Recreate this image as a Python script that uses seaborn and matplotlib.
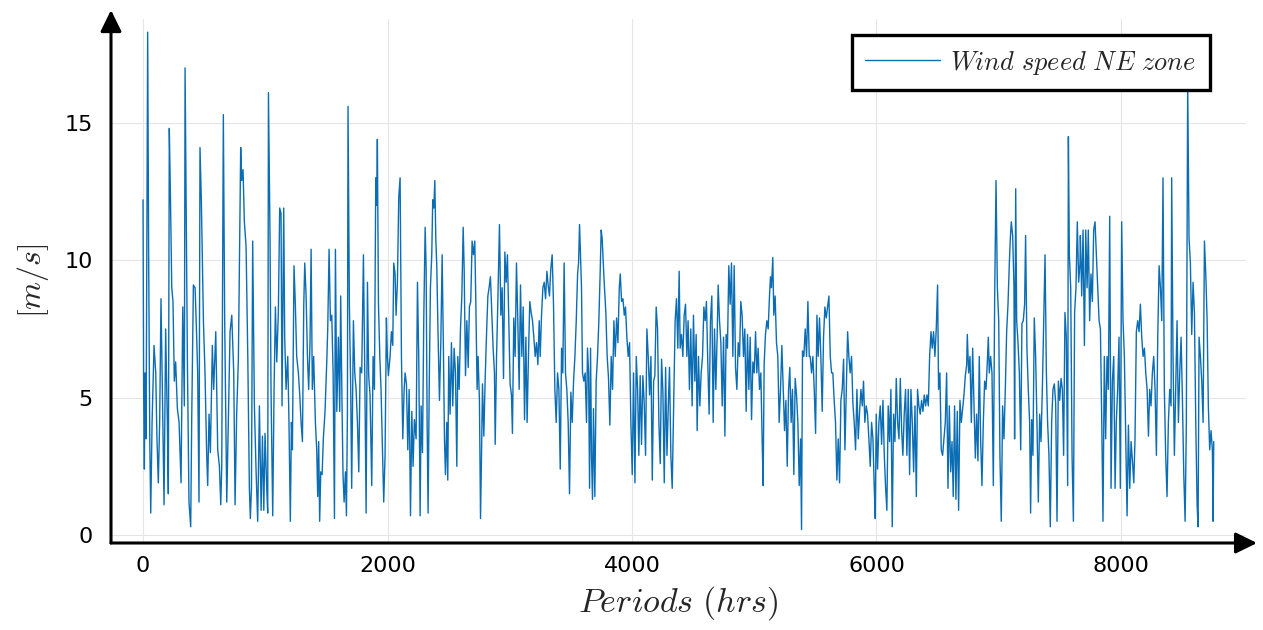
import numpy as np
import pandas as pd
import matplotlib
matplotlib.use("Agg")
import matplotlib.pyplot as plt
import seaborn as sns

# ---- data (hour, wind speed m/s) ----
h1 = [0,5,11,16,25,38,46,55,63,74,90,104,114,125,136,147,158,172,185,199,207,215,224,235,245,256,267,281,295,311,325,338,344,352,363,376,390,398,412,426,439,447,458,466,477,494,507,521,529,540,551,567,578,595,611,625,636,644,657,668,685,698,712,726,742,753,766,780,799,807,818,829,843,857,870,878,887,897,911,925,938,952,966,977,988,998,1012,1020,1026]
v1 = [12.2,5.3,2.4,5.9,3.5,18.3,10.2,3.5,0.8,4.1,6.9,5.9,3.5,1.9,4.1,8.6,5.3,1.1,7.5,4.1,1.5,14.8,12.4,9.0,8.5,5.6,6.3,4.6,4.1,1.9,8.3,4.7,17.0,12.6,6.3,1.2,0.3,4.1,9.1,9.0,7.2,5.9,1.2,14.1,12.2,7.8,5.9,2.9,1.8,4.4,3.0,6.9,5.3,7.4,3.1,2.5,1.1,2.5,15.3,7.8,1.2,4.1,7.4,8.0,5.9,1.1,4.4,6.4,14.1,12.9,13.3,11.4,10.5,6.5,1.7,0.6,1.7,10.7,4.7,2.3,0.5,4.7,0.9,3.6,0.9,3.7,1.7,0.8,16.1]

h2 = [1039,1047,1061,1072,1083,1094,1107,1118,1129,1137,1151,1159,1170,1184,1194,1205,1214,1222,1235,1246,1257,1271,1282,1293,1304,1315,1323,1334,1345,1355,1366,1375,1385,1396,1410,1421,1429,1437,1445,1454,1465,1475,1489,1503,1511,1522,1533,1544,1555,1566,1574,1585,1598,1609,1617,1628,1636,1645,1656,1664,1672,1677,1688,1699,1707,1716,1721,1732,1743,1754,1765,1776,1789,1803,1814,1825,1836,1846,1857,1871,1882,1893,1904,1912,1917,1926,1937,1947,1958,1969,1980,1991,1999,2007,2021,2032,2043,2051,2062,2070,2081,2092,2103,2114,2125,2136]
v2 = [10.8,5.3,0.7,5.3,8.3,6.3,8.1,11.9,11.7,4.7,11.9,7.2,5.3,6.5,4.1,0.5,4.1,3.1,9.8,8.4,6.5,5.9,5.1,4.1,3.4,8.4,9.9,8.7,6.5,5.3,7.0,10.4,5.3,6.5,4.1,3.1,1.4,3.4,0.5,2.3,2.2,3.5,4.5,6.3,7.5,10.4,7.8,8.0,5.9,0.6,10.4,4.5,7.2,4.5,8.7,4.7,2.2,1.2,2.3,0.7,4.4,15.6,8.4,5.3,1.7,5.6,7.8,5.9,5.3,4.1,2.3,6.1,5.9,10.2,5.9,0.8,9.2,5.8,5.1,1.8,6.5,5.3,13.0,12.0,14.4,8.4,6.5,5.3,3.3,1.2,2.9,7.9,6.5,5.8,6.5,7.4,6.9,9.9,9.5,8.0,9.2,12.3,13.0,6.5,3.5,5.3]

h3 = [2144,2155,2166,2177,2188,2199,2209,2220,2234,2245,2256,2267,2275,2286,2297,2308,2316,2324,2332,2341,2351,2362,2370,2379,2387,2395,2403,2414,2425,2436,2447,2458,2466,2474,2485,2493,2501,2512,2523,2534,2545,2556,2567,2575,2586,2597,2608,2619,2627,2638,2649,2660,2670,2681,2692,2703,2714,2722,2733,2741,2752,2761,2769,2777,2788,2799,2810,2821,2831,2842,2853,2864,2875,2881,2892,2902,2916,2927,2938,2949,2960,2971,2981,2992,3003,3014,3022,3033,3044,3055,3066,3077,3088,3099,3110,3121,3132,3142,3153,3164,3175,3186,3197,3208,3219,3230,3241]
v3 = [5.9,5.5,3.1,5.3,0.7,4.5,2.5,4.2,3.5,9.2,6.3,0.7,4.7,3.0,8.0,11.2,9.7,4.1,0.8,5.3,9.0,10.2,12.2,11.9,12.9,10.8,9.8,7.2,4.9,7.0,10.2,6.5,3.5,2.2,4.1,2.0,6.5,4.4,7.0,4.7,6.8,5.9,2.5,6.5,5.3,7.5,8.7,11.2,9.7,5.8,7.8,6.1,8.3,8.5,10.7,10.2,10.7,8.6,5.3,6.5,4.9,0.6,2.9,5.5,3.6,5.7,7.3,8.7,9.0,9.4,8.1,6.8,5.9,3.3,6.5,8.4,11.3,8.0,9.0,5.7,10.3,9.2,10.2,7.8,5.5,5.1,3.7,7.9,6.5,9.9,7.8,5.3,9.1,6.5,8.3,4.2,7.2,4.1,6.5,8.5,8.1,7.8,7.2,6.5,7.0,6.2,7.8]

h4 = [3249,3260,3271,3282,3293,3304,3314,3325,3336,3347,3358,3369,3380,3391,3402,3413,3424,3434,3445,3456,3467,3478,3489,3500,3511,3522,3533,3544,3555,3563,3571,3579,3587,3595,3606,3617,3628,3636,3645,3653,3661,3669,3677,3685,3696,3707,3718,3729,3740,3748,3756,3765,3775,3786,3797,3808,3819,3830,3841,3852,3863,3874,3885,3896,3904,3915,3926,3937,3947,3958,3969,3980,3991,4002,4013,4024,4035,4046,4056,4067,4078,4089,4100,4111,4122,4133,4144,4155,4166,4177,4187,4198,4209,4220,4231,4242,4253,4264,4275,4286,4297,4307,4318,4329,4340]
v4 = [6.5,8.0,9.0,9.2,8.6,9.6,9.1,8.7,9.7,10.2,8.4,5.3,4.1,5.9,5.3,2.4,6.8,5.9,9.9,5.9,5.3,4.1,1.5,5.2,4.1,5.6,6.5,7.8,9.5,9.9,11.3,10.2,9.0,5.9,5.6,5.9,4.1,6.8,5.9,1.7,6.8,2.9,1.3,4.6,1.4,5.6,6.5,7.8,9.6,11.1,10.8,9.9,9.0,8.1,6.5,5.7,4.0,6.5,5.3,7.8,6.5,7.9,7.0,9.0,9.5,8.5,8.6,8.0,8.3,7.2,6.5,7.0,4.1,2.2,5.9,1.9,6.5,5.3,2.9,5.8,3.3,5.8,4.8,2.9,7.5,6.5,5.1,6.5,2.0,5.6,5.8,8.3,7.5,4.1,2.6,6.4,5.2,1.9,6.1,2.9,4.7,6.1,2.9,1.7,4.4]

h5 = [4353,4364,4375,4386,4394,4405,4416,4427,4438,4449,4459,4470,4481,4492,4503,4514,4525,4533,4544,4555,4566,4577,4588,4599,4609,4620,4631,4642,4653,4664,4675,4686,4697,4705,4716,4727,4738,4749,4760,4770,4781,4792,4803,4814,4825,4836,4847,4858,4869,4880,4890,4901,4912,4923,4934,4945,4956,4967,4978,4989,5000,5011,5021,5032,5043,5054,5065,5073,5081,5092,5103,5114,5125,5133,5141,5152,5160,5171,5182,5193,5204,5215,5226,5237,5248,5259,5270,5281,5291,5302,5313,5324,5335,5346,5357,5368,5379,5387,5395,5406,5417,5428,5439,5450]
v5 = [7.8,8.6,6.8,9.6,6.8,7.3,6.5,8.0,8.4,6.5,7.8,5.3,7.5,4.7,8.0,5.6,7.3,3.8,6.5,4.7,5.9,6.5,8.3,7.8,8.5,6.3,4.4,7.8,8.7,4.1,7.5,5.3,7.3,9.1,7.8,7.0,4.7,7.2,3.6,7.3,6.8,9.8,8.4,9.9,6.5,9.8,6.1,5.3,7.0,6.5,8.5,8.0,6.5,7.5,4.5,7.3,5.3,7.2,4.2,6.3,5.9,7.4,5.9,6.8,5.3,5.9,3.4,1.8,6.2,7.3,7.8,7.5,8.7,9.4,9.0,10.1,8.0,8.7,7.0,6.5,4.1,5.3,6.9,5.3,3.8,4.9,2.5,5.3,6.1,4.1,5.3,2.2,5.7,5.1,4.1,1.8,3.5,0.2,6.7,6.5,7.5,6.5,8.5,6.5]

h6 = [5458,5469,5480,5491,5502,5513,5523,5534,5545,5556,5567,5578,5589,5600,5611,5622,5633,5643,5654,5665,5676,5687,5698,5709,5720,5731,5742,5753,5764,5774,5785,5796,5807,5818,5829,5840,5851,5862,5873,5884,5894,5905,5916,5927,5938,5949,5960,5971,5982,5990,5998,6009,6020,6031,6042,6053,6064,6075,6085,6096,6107,6118,6129,6140,6151,6162,6173,6184,6195,6206,6216,6227,6238,6249,6260,6271,6282,6293,6304,6315,6326,6336,6347,6358,6369,6380,6391,6402,6413,6424,6435,6446,6456,6467,6478,6489,6500,6508,6519,6530,6541,6552]
v6 = [6.5,5.9,6.5,5.3,3.7,8.0,6.5,7.9,6.5,4.5,7.2,8.3,7.9,8.3,8.7,6.5,5.9,5.9,4.9,4.1,2.0,3.5,1.9,4.9,5.3,6.4,3.1,5.3,7.4,6.5,5.9,6.5,4.8,4.1,3.1,5.3,3.5,4.5,5.3,4.7,5.6,4.1,4.7,4.4,3.5,2.5,4.1,3.5,1.7,0.6,4.4,2.4,4.1,4.7,3.3,4.9,2.9,1.7,0.9,4.7,3.4,5.3,0.3,4.4,3.4,5.7,4.1,3.5,5.7,3.8,2.9,4.4,5.3,2.9,5.3,2.2,5.3,4.1,2.3,4.7,1.4,5.3,4.7,4.4,4.9,4.5,5.1,4.7,5.1,4.7,6.5,7.4,6.8,7.4,6.5,7.5,9.1,5.3,5.9,3.1,2.9,3.5]

h7 = [6563,6574,6585,6596,6607,6618,6628,6639,6650,6661,6672,6683,6694,6705,6716,6727,6738,6743,6754,6765,6776,6787,6798,6809,6819,6830,6841,6852,6863,6874,6885,6896,6907,6915,6923,6934,6945,6956,6967,6978,6989,7000,7010,7021,7032,7043,7054,7065,7076,7087,7095,7103,7114,7125,7130,7139,7147,7158,7169,7180,7190,7201,7212,7220,7231,7242,7253,7261,7270,7280,7291,7302,7313,7324,7335,7346,7357,7368,7379,7390,7400,7411,7422,7433,7444,7455,7466,7477,7488,7499,7510,7521,7531,7542,7553,7564,7570,7578,7589,7600,7611,7621,7632,7643,7654,7665]
v7 = [4.1,5.9,1.7,4.7,2.3,3.4,1.4,4.7,1.3,4.5,0.9,4.9,4.1,4.6,5.1,5.8,6.2,7.3,5.9,6.5,4.1,6.8,4.7,2.8,4.4,2.7,6.5,3.5,1.8,4.1,5.6,5.3,6.3,7.2,5.9,6.5,5.9,1.8,8.7,12.9,9.0,7.8,2.9,0.5,4.7,3.5,5.3,7.4,8.4,9.9,10.8,11.4,10.9,9.0,3.5,12.6,7.8,7.0,5.9,3.1,7.7,7.8,8.4,10.9,6.8,5.3,4.1,0.8,4.2,2.9,7.9,6.5,4.1,1.2,4.4,3.4,5.3,7.8,10.2,5.9,4.1,2.9,0.3,4.1,5.3,5.5,4.8,0.5,5.6,4.9,5.7,5.3,2.9,8.1,7.2,1.8,14.5,10.2,9.0,2.9,0.5,8.1,9.0,11.4,9.2,9.9]

h8 = [7668,7679,7690,7701,7712,7723,7733,7744,7755,7766,7777,7788,7799,7810,7821,7832,7843,7853,7864,7875,7886,7897,7908,7919,7930,7941,7952,7962,7973,7984,7995,8006,8017,8028,8039,8050,8061,8072,8083,8094,8105,8115,8126,8137,8148,8159,8170,8181,8192,8203,8214,8225,8235,8246,8257,8268,8279,8290,8301,8312,8323,8334,8344,8355,8366,8377,8388,8399,8410,8415,8426,8437,8448,8459,8470,8481,8492,8503,8514,8525,8535,8546,8557,8568,8579,8590,8601,8612,8623,8631,8639,8650,8661,8672,8683,8694,8705,8715,8726,8737,8748,8754,8759]
v8 = [10.9,8.7,11.1,6.9,11.1,9.0,11.1,7.8,9.5,8.5,11.1,11.4,10.2,9.0,7.8,7.5,4.1,0.5,6.5,3.5,6.5,5.3,11.6,1.7,5.6,6.5,1.7,4.1,5.3,7.2,1.7,11.4,7.8,6.5,3.5,0.7,4.0,1.7,3.4,2.7,1.9,3.5,7.4,7.8,7.4,8.4,7.2,6.5,6.8,5.9,5.3,3.6,5.3,4.7,5.9,6.5,5.3,2.9,7.2,9.8,9.0,7.8,13.0,5.3,2.9,1.4,4.1,5.3,4.7,13.0,6.5,2.9,5.3,7.8,4.1,5.9,7.2,4.9,2.2,0.5,4.1,16.4,10.8,9.9,7.3,9.2,8.1,4.1,1.1,0.3,7.2,6.5,5.6,4.1,10.7,9.5,7.8,4.7,3.1,3.8,3.1,0.5,3.4]

x_ticks = [0, 2000, 4000, 6000, 8000]
y_ticks = [0, 5, 10, 15]
series_label = r"$Wind\ speed\ NE\ zone$"
x_label = r"$Periods\ (hrs)$"
y_label = r"$[m/s]$"

hours = h1 + h2 + h3 + h4 + h5 + h6 + h7 + h8
speed = v1 + v2 + v3 + v4 + v5 + v6 + v7 + v8
assert len(hours) == len(speed)
df = pd.DataFrame({"hours": hours, "speed": speed})

# ---- style ----
sns.set_style("white")
plt.rcParams["font.family"] = ["DejaVu Sans"]
plt.rcParams["mathtext.fontset"] = "cm"

W, H = 1263, 630
fig = plt.figure(figsize=(W / 100, H / 100), dpi=100)
L, R, T, B = 111, 1246, 19, 543
ax = fig.add_axes([L / W, 1 - B / H, (R - L) / W, (B - T) / H])

line_color = "#0b6db4"
sns.lineplot(data=df, x="hours", y="speed", ax=ax, color=line_color,
             lw=1.0, sort=False, estimator=None, label=series_label)

ax.set_xlim(-262, 9023)
ax.set_ylim(-0.29, 18.78)
ax.set_xticks(x_ticks)
ax.set_yticks(y_ticks)
ax.grid(True, color="#e5e5e5", lw=0.8)
ax.set_axisbelow(True)
for s in ax.spines.values():
    s.set_visible(False)

ax.tick_params(axis="both", direction="in", length=7, width=1.6,
               color="black", labelsize=16, labelcolor="black")
ax.tick_params(axis="y", pad=13)
ax.tick_params(axis="x", pad=9)

# axes with arrow heads
arrow_kw = dict(arrowstyle="-|>,head_length=0.65,head_width=0.32",
                lw=2.2, color="black", shrinkA=0, shrinkB=0,
                mutation_scale=20)
ax.annotate("", xy=(1.0097, 0), xytext=(0, 0), xycoords="axes fraction",
            textcoords="axes fraction", arrowprops=arrow_kw, annotation_clip=False)
ax.annotate("", xy=(0, 1.017), xytext=(0, 0), xycoords="axes fraction",
            textcoords="axes fraction", arrowprops=arrow_kw, annotation_clip=False)

ax.set_xlabel(x_label, fontsize=24.5, labelpad=6)
ax.set_ylabel(y_label, fontsize=23, labelpad=10)

leg = ax.legend(loc="upper right", bbox_to_anchor=(0.968, 0.9695),
                fontsize=19, frameon=True, fancybox=False, edgecolor="black",
                framealpha=1, handlelength=2.85, handletextpad=0.38,
                borderpad=0.52, borderaxespad=0)
leg.get_frame().set_linewidth(2.4)

fig.savefig("out.png", dpi=100, facecolor="white")
